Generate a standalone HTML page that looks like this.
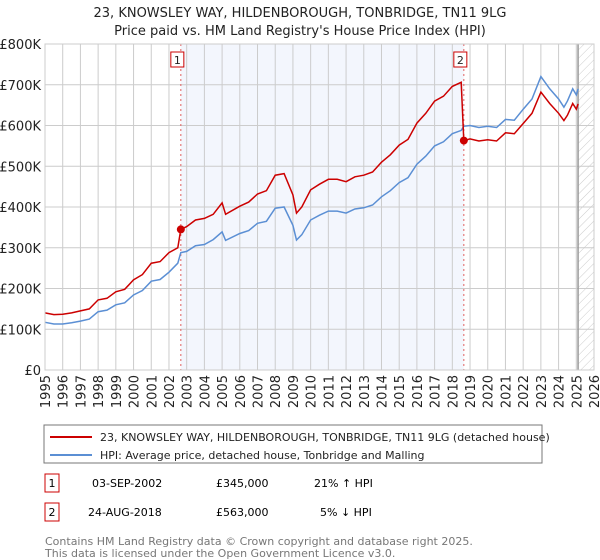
<!DOCTYPE html>
<html><head><meta charset="utf-8"><style>
body{margin:0;background:#fff;font-family:"Liberation Sans","DejaVu Sans",sans-serif;}
#wrap{position:relative;width:600px;height:560px;overflow:hidden;}
</style></head><body><div id="wrap">
<svg id="svg" width="600" height="560" xmlns="http://www.w3.org/2000/svg" font-family="DejaVu Sans, Liberation Sans, sans-serif">
<defs><pattern id="hatch" width="6" height="6" patternUnits="userSpaceOnUse" patternTransform="rotate(45)"><line x1="0" y1="0" x2="0" y2="6" stroke="#ccc" stroke-width="1"/></pattern></defs>
<text x="300" y="17" text-anchor="middle" font-size="13" fill="#222">23, KNOWSLEY WAY, HILDENBOROUGH, TONBRIDGE, TN11 9LG</text>
<text x="300" y="35" text-anchor="middle" font-size="13" fill="#222">Price paid vs. HM Land Registry's House Price Index (HPI)</text>
<g id="plot"></g>
<rect x="44" y="425" width="498" height="38" fill="#fff" stroke="#777"/>
<line x1="50" y1="437" x2="92" y2="437" stroke="#cc0000" stroke-width="2"/>
<text x="100" y="441" font-size="11" fill="#222">23, KNOWSLEY WAY, HILDENBOROUGH, TONBRIDGE, TN11 9LG (detached house)</text>
<line x1="50" y1="455" x2="92" y2="455" stroke="#5b8fd4" stroke-width="2"/>
<text x="100" y="459" font-size="11" fill="#222">HPI: Average price, detached house, Tonbridge and Malling</text>
<g>
<rect x="45" y="474" width="14" height="18" fill="#fff" stroke="#cc0000"/><text x="52" y="487" text-anchor="middle" font-size="11">1</text>
<text x="92" y="487" font-size="11">03-SEP-2002</text><text x="216" y="487" font-size="11">£345,000</text><text x="314" y="487" font-size="11">21% ↑ HPI</text></g>
<g>
<rect x="45" y="503" width="14" height="18" fill="#fff" stroke="#cc0000"/><text x="52" y="516" text-anchor="middle" font-size="11">2</text>
<text x="88" y="516" font-size="11">24-AUG-2018</text><text x="216" y="516" font-size="11">£563,000</text><text x="320" y="516" font-size="11">5% ↓ HPI</text></g>
<text x="45" y="545" font-size="11" fill="#777">Contains HM Land Registry data © Crown copyright and database right 2025.</text>
<text x="45" y="557" font-size="11" fill="#777">This data is licensed under the Open Government Licence v3.0.</text>
</svg></div>
<script>
const years=[1995,1995.5,1996,1996.5,1997,1997.5,1998,1998.5,1999,1999.5,2000,2000.5,2001,2001.5,2002,2002.5,2002.67,2003,2003.5,2004,2004.5,2005,2005.2,2006,2006.5,2007,2007.5,2008,2008.5,2009,2009.2,2009.5,2010,2010.5,2011,2011.5,2012,2012.5,2013,2013.5,2014,2014.5,2015,2015.5,2016,2016.5,2017,2017.5,2018,2018.5,2018.65,2019,2019.5,2020,2020.5,2021,2021.5,2022,2022.5,2023,2023.5,2024,2024.3,2024.5,2024.8,2025,2025.1];
const hpi=[117,113,113,116,120,125,143,147,160,165,184,195,218,222,240,262,288,291,305,308,320,339,318,335,342,360,365,397,400,355,319,332,368,380,390,390,385,395,398,405,425,440,460,472,505,525,550,560,580,588,598,600,595,598,595,615,613,640,665,720,690,665,645,660,690,675,690];
const price=[140,136,137,140,145,150,172,176,192,198,221,234,262,266,288,300,345,352,368,372,382,410,382,402,412,432,440,478,482,430,385,400,442,456,468,468,462,474,478,486,510,528,552,566,606,630,660,672,696,706,563,567,562,565,562,582,580,605,630,682,654,630,612,625,654,640,653];
const yTicks=[0,100,200,300,400,500,600,700,800];
const yTickLabels=["£0","£100K","£200K","£300K","£400K","£500K","£600K","£700K","£800K"];
const xTicks=[1995,1996,1997,1998,1999,2000,2001,2002,2003,2004,2005,2006,2007,2008,2009,2010,2011,2012,2013,2014,2015,2016,2017,2018,2019,2020,2021,2022,2023,2024,2025,2026];
const sales=[{n:"1",t:2002.67,v:345},{n:"2",t:2018.65,v:563}];
const X0=45,X1=594,Y0=370,Y1=44;
const xS=t=>X0+(t-1995)/(2026-1995)*(X1-X0);
const yS=v=>Y0-v/800*(Y0-Y1);
const NS="http://www.w3.org/2000/svg",g=document.getElementById('plot');
function mk(tag,a,p){const e=document.createElementNS(NS,tag);for(const k in a)e.setAttribute(k,a[k]);(p||g).appendChild(e);return e;}
let e=mk('rect',{x:xS(2002.67),y:Y1,width:xS(2018.65)-xS(2002.67),height:Y0-Y1,fill:'#f3f6fd'});


e=mk('rect',{x:xS(2025.1),y:Y1,width:X1-xS(2025.1),height:Y0-Y1,fill:'url(#hatch)'});


yTicks.forEach((v,i)=>{
 e=mk('line',{x1:X0,x2:X1,y1:yS(v),y2:yS(v),stroke:'#ccc'});
 
 
 e=mk('text',{x:X0-4,y:yS(v)+5,'text-anchor':'end','font-size':'13',fill:'#222'});e.textContent=yTickLabels[i];
 
 
});
xTicks.forEach(t=>{
 e=mk('line',{x1:xS(t),x2:xS(t),y1:Y1,y2:Y0,stroke:'#ccc'});
 
 
 e=mk('text',{x:0,y:0,'text-anchor':'end','font-size':'13',fill:'#222',transform:`translate(${xS(t)+5},${Y0+5}) rotate(-90)`});e.textContent=t;
 
 
});
e=mk('line',{x1:xS(2025.1),x2:xS(2025.1),y1:Y1,y2:Y0,stroke:'#999','stroke-width':1.5});


sales.forEach(s=>{
 e=mk('line',{x1:xS(s.t),x2:xS(s.t),y1:Y1,y2:Y0,stroke:'#e06060','stroke-dasharray':'2,3'});
 
 
});
const pts=arr=>arr.map((v,i)=>xS(years[i]).toFixed(1)+','+yS(v).toFixed(1)).join(' ');
e=mk('polyline',{points:pts(hpi),fill:'none',stroke:'#5b8fd4','stroke-width':1.5});


e=mk('polyline',{points:pts(price),fill:'none',stroke:'#cc0000','stroke-width':1.5});


sales.forEach(s=>{
 e=mk('circle',{cx:xS(s.t),cy:yS(s.v),r:4,fill:'#cc0000'});
 
 
 const bx=xS(s.t)-10;
 e=mk('rect',{x:bx,y:52,width:13,height:15,fill:'#fff',stroke:'#cc0000'});
 
 
 e=mk('text',{x:bx+6.5,y:64,'text-anchor':'middle','font-size':'11',fill:'#222'});e.textContent=s.n;
 
 
});
e=mk('rect',{x:X0,y:Y1,width:X1-X0,height:Y0-Y1,fill:'none',stroke:'#ccc'});


</script></body></html>
